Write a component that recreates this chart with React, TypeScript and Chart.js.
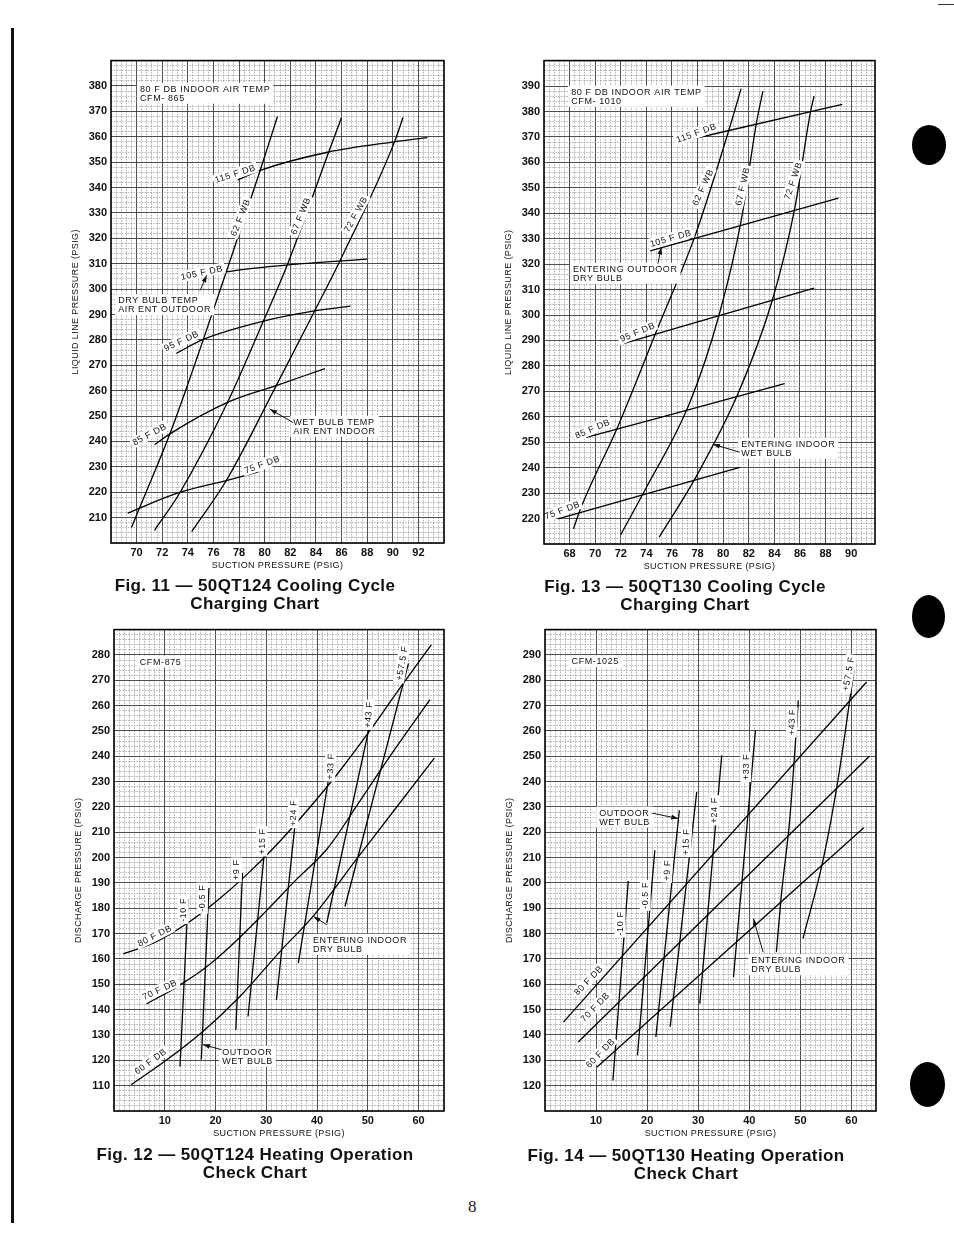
import React, { useEffect, useRef } from 'react';
import { Chart, registerables } from 'chart.js';

Chart.register(...registerables);

type Pt = [number, number];
type Label = { lines: string[]; x: number; y: number; rot?: number };
type Arrow = { from: Pt; to: Pt };

const FONT = '"Liberation Sans", Arial, Helvetica, sans-serif';

// ---------------- Fig. 11 — 50QT124 cooling ----------------
const fig11XTickLabels = [70, 72, 74, 76, 78, 80, 82, 84, 86, 88, 90, 92];
const fig11YTickLabels = [210, 220, 230, 240, 250, 260, 270, 280, 290, 300, 310, 320, 330, 340, 350, 360, 370, 380];
const fig11WB62: Pt[] = [[69.6, 206.1], [70.2, 213.5], [72.6, 243], [75.2, 280], [77, 306.8], [79.6, 346], [81, 368]];
const fig11WB67: Pt[] = [[71.4, 205], [73.4, 220], [77.1, 255.4], [79.9, 287.4], [81.8, 310], [85, 354], [86, 367.6]];
const fig11WB72: Pt[] = [[74.3, 204.5], [77, 224.6], [80.9, 262], [83.9, 291.4], [85.9, 311.4], [90.1, 357.5], [90.8, 367.6]];
const fig11DB115: Pt[] = [[77.9, 343], [79.6, 346.7], [84.9, 353.9], [90.1, 358], [92.7, 359.7]];
const fig11DB105: Pt[] = [[74.4, 304.2], [77, 306.8], [82.2, 309.7], [88, 311.8]];
const fig11DB95: Pt[] = [[73.1, 274.7], [75.2, 280.2], [79.9, 287.4], [83.9, 291.4], [86.7, 293.3]];
const fig11DB85: Pt[] = [[71.4, 238.7], [72.6, 243], [77.1, 255.4], [80.9, 262], [84.7, 268.7]];
const fig11DB75: Pt[] = [[69.3, 211.8], [73.4, 220], [77, 224.6], [79.5, 228]];

// ---------------- Fig. 13 — 50QT130 cooling ----------------
const fig13XTickLabels = [68, 70, 72, 74, 76, 78, 80, 82, 84, 86, 88, 90];
const fig13YTickLabels = [220, 230, 240, 250, 260, 270, 280, 290, 300, 310, 320, 330, 340, 350, 360, 370, 380, 390];
const fig13WB62: Pt[] = [[68.3, 216], [68.9, 224.4], [71.8, 256.5], [74.8, 293.8], [77.8, 331.1], [80.5, 373.6], [81.4, 389]];
const fig13WB67: Pt[] = [[72.0, 213.7], [73.9, 231.3], [77.4, 265.7], [79.7, 300.4], [81.4, 337], [82.6, 375.6], [83.1, 388]];
const fig13WB72: Pt[] = [[75.0, 212.7], [77.9, 236.6], [81.2, 269.6], [83.9, 306.9], [85.6, 342.2], [86.8, 379.3], [87.1, 386]];
const fig13DB115: Pt[] = [[76.9, 368.4], [89.3, 382.8]];
const fig13DB105: Pt[] = [[74.3, 325.2], [89.0, 345.9]];
const fig13DB95: Pt[] = [[72.2, 288.8], [87.1, 310.6]];
const fig13DB85: Pt[] = [[69.3, 251.9], [84.8, 273]];
const fig13DB75: Pt[] = [[67.1, 219.9], [81.3, 240.1]];

// ---------------- Fig. 12 — 50QT124 heating ----------------
const fig12XTickLabels = [10, 20, 30, 40, 50, 60];
const fig12YTickLabels = [110, 120, 130, 140, 150, 160, 170, 180, 190, 200, 210, 220, 230, 240, 250, 260, 270, 280];
const fig12DB80: Pt[] = [[1.8, 162], [8, 166.5], [14, 173.5], [20, 182.5], [26, 193], [32, 205], [38, 218.5], [44, 233], [50, 249], [56, 266], [62.5, 284]];
const fig12DB70: Pt[] = [[6.4, 142.3], [12, 148.5], [18, 156.5], [24, 167], [30, 179], [36, 191.5], [42, 203.5], [48, 221], [54, 239], [62.2, 262.3]];
const fig12DB60: Pt[] = [[3.4, 110.4], [10, 119.6], [17.5, 131.4], [24.8, 145.2], [33, 163.6], [39.2, 176.8], [47.7, 199.2], [55, 218.2], [63.1, 239.3]];
const fig12WBm10: Pt[] = [[13.0, 117.6], [14.6, 183.6]];
const fig12WBm05: Pt[] = [[17.2, 120.3], [18.7, 188]];
const fig12WB9: Pt[] = [[24.0, 132.1], [25.3, 193.9]];
const fig12WB15: Pt[] = [[26.4, 137.3], [29.9, 207.7]];
const fig12WB24: Pt[] = [[32.0, 143.9], [36.1, 221.5]];
const fig12WB33: Pt[] = [[36.3, 158.4], [43.1, 241.2]];
const fig12WB43: Pt[] = [[41.9, 174.2], [51.1, 259]];
const fig12WB575: Pt[] = [[45.5, 180.7], [58.0, 276.7]];

// ---------------- Fig. 14 — 50QT130 heating ----------------
const fig14XTickLabels = [10, 20, 30, 40, 50, 60];
const fig14YTickLabels = [120, 130, 140, 150, 160, 170, 180, 190, 200, 210, 220, 230, 240, 250, 260, 270, 280, 290];
const fig14DB80: Pt[] = [[3.6, 145.1], [62.95, 279.3]];
const fig14DB70: Pt[] = [[6.5, 137.2], [63.5, 250]];
const fig14DB60: Pt[] = [[10.2, 127.4], [62.4, 221.8]];
const fig14WBm10: Pt[] = [[13.3, 122.1], [16.3, 200.8]];
const fig14WBm05: Pt[] = [[18.1, 132.0], [21.5, 212.9]];
const fig14WB9: Pt[] = [[21.7, 139.2], [26.3, 228.7]];
const fig14WB15: Pt[] = [[24.5, 143.2], [29.7, 235.9]];
const fig14WB24: Pt[] = [[30.3, 152.4], [34.6, 250.4]];
const fig14WB33: Pt[] = [[36.9, 162.9], [41.2, 260.2]];
const fig14WB43: Pt[] = [[45.3, 172.7], [46.3, 195.8], [47.9, 224.8], [49.6, 272]];
const fig14WB575: Pt[] = [[50.5, 178], [54.5, 209.6], [57.4, 241.2], [60.5, 284]];

// ---------------- annotations ----------------
const fig11Labels: Label[] = [
  { lines: ['80 F DB INDOOR AIR TEMP', 'CFM- 865'], x: 70.26, y: 378.9 },
  { lines: ['115 F DB'], x: 77.7, y: 345.5, rot: -18 },
  { lines: ['62 F WB'], x: 78.1, y: 328.2, rot: -68 },
  { lines: ['67 F WB'], x: 82.8, y: 328.8, rot: -68 },
  { lines: ['72 F WB'], x: 87.1, y: 329.5, rot: -61 },
  { lines: ['105 F DB'], x: 75.1, y: 306.5, rot: -12 },
  { lines: ['DRY BULB TEMP', 'AIR ENT OUTDOOR'], x: 68.56, y: 295.6 },
  { lines: ['95 F DB'], x: 73.5, y: 279.6, rot: -25 },
  { lines: ['85 F DB'], x: 71.0, y: 242.8, rot: -28 },
  { lines: ['75 F DB'], x: 79.8, y: 231, rot: -20 },
  { lines: ['WET BULB TEMP', 'AIR ENT INDOOR'], x: 82.23, y: 247.7 },
];
const fig11Arrows: Arrow[] = [
  { from: [74.96, 299.5], to: [75.47, 305.4] },
  { from: [82.23, 247.4], to: [80.41, 252.7] },
];
const fig13Labels: Label[] = [
  { lines: ['80 F DB INDOOR AIR TEMP', 'CFM- 1010'], x: 68.13, y: 387.8 },
  { lines: ['115 F DB'], x: 77.9, y: 371.6, rot: -20 },
  { lines: ['62 F WB'], x: 78.4, y: 350.2, rot: -65 },
  { lines: ['67 F WB'], x: 81.5, y: 350.6, rot: -77 },
  { lines: ['72 F WB'], x: 85.45, y: 352.8, rot: -71 },
  { lines: ['105 F DB'], x: 75.9, y: 330.2, rot: -16 },
  { lines: ['ENTERING OUTDOOR', 'DRY BULB'], x: 68.26, y: 318.2 },
  { lines: ['95 F DB'], x: 73.3, y: 293.3, rot: -23 },
  { lines: ['85 F DB'], x: 69.8, y: 255.3, rot: -23 },
  { lines: ['75 F DB'], x: 67.43, y: 223.3, rot: -21 },
  { lines: ['ENTERING INDOOR', 'WET BULB'], x: 81.41, y: 249.4 },
];
const fig13Arrows: Arrow[] = [
  { from: [74.9, 320.2], to: [75.16, 326.6] },
  { from: [81.28, 246.1], to: [79.2, 249.2] },
];
const fig12Labels: Label[] = [
  { lines: ['CFM-875'], x: 5.07, y: 277.4 },
  { lines: ['+57.5 F'], x: 56.7, y: 276.7, rot: -80 },
  { lines: ['+43 F'], x: 50.1, y: 256.4, rot: -85 },
  { lines: ['+33 F'], x: 42.6, y: 236, rot: -87 },
  { lines: ['+24 F'], x: 35.3, y: 217.6, rot: -88 },
  { lines: ['+15 F'], x: 29.1, y: 206.4, rot: -90 },
  { lines: ['+9 F'], x: 24.1, y: 195.2, rot: -90 },
  { lines: ['-0.5 F'], x: 17.4, y: 184, rot: -90 },
  { lines: ['-10 F'], x: 13.6, y: 179.4, rot: -90 },
  { lines: ['80 F DB'], x: 8.0, y: 169.2, rot: -27 },
  { lines: ['70 F DB'], x: 9.0, y: 147.9, rot: -25 },
  { lines: ['60 F DB'], x: 7.2, y: 119.6, rot: -36 },
  { lines: ['ENTERING INDOOR', 'DRY BULB'], x: 39.2, y: 167.6 },
  { lines: ['OUTDOOR', 'WET BULB'], x: 21.3, y: 123.3 },
];
const fig12Arrows: Arrow[] = [
  { from: [41.9, 173.5], to: [39.3, 176.8] },
  { from: [21.2, 124.2], to: [17.5, 126.2] },
];
const fig14Labels: Label[] = [
  { lines: ['CFM-1025'], x: 5.2, y: 287.5 },
  { lines: ['+57.5 F'], x: 59.4, y: 282.6, rot: -80 },
  { lines: ['+43 F'], x: 48.3, y: 263.5, rot: -88 },
  { lines: ['+33 F'], x: 39.3, y: 245.8, rot: -90 },
  { lines: ['+24 F'], x: 33.1, y: 228.7, rot: -90 },
  { lines: ['+15 F'], x: 27.6, y: 216.2, rot: -87 },
  { lines: ['+9 F'], x: 23.9, y: 205, rot: -87 },
  { lines: ['-0.5 F'], x: 19.6, y: 195.1, rot: -90 },
  { lines: ['-10 F'], x: 14.7, y: 184, rot: -90 },
  { lines: ['80 F DB'], x: 8.5, y: 161.6, rot: -46 },
  { lines: ['70 F DB'], x: 9.8, y: 151, rot: -46 },
  { lines: ['60 F DB'], x: 10.8, y: 132.9, rot: -46 },
  { lines: ['OUTDOOR', 'WET BULB'], x: 10.6, y: 227.8 },
  { lines: ['ENTERING INDOOR', 'DRY BULB'], x: 40.4, y: 169.5 },
];
const fig14Arrows: Arrow[] = [
  { from: [20.9, 227.6], to: [26.1, 225.4] },
  { from: [42.7, 172.7], to: [40.8, 185.9] },
];

type Axis = { min: number; max: number; step: number; labels: number[] };
type Panel = {
  rect: [number, number, number, number];
  x: Axis;
  y: Axis;
  xTitle: string;
  yTitle: string;
  series: Pt[][];
  labels: Label[];
  arrows: Arrow[];
};

const panels: Panel[] = [
  {
    rect: [111, 60, 444, 543],
    x: { min: 68, max: 94, step: 0.4, labels: fig11XTickLabels },
    y: { min: 200, max: 390, step: 2, labels: fig11YTickLabels },
    xTitle: 'SUCTION PRESSURE (PSIG)',
    yTitle: 'LIQUID LINE PRESSURE (PSIG)',
    series: [fig11WB62, fig11WB67, fig11WB72, fig11DB115, fig11DB105, fig11DB95, fig11DB85, fig11DB75],
    labels: fig11Labels,
    arrows: fig11Arrows,
  },
  {
    rect: [544, 60, 875, 544],
    x: { min: 66, max: 91.86, step: 0.4, labels: fig13XTickLabels },
    y: { min: 210, max: 400, step: 2, labels: fig13YTickLabels },
    xTitle: 'SUCTION PRESSURE (PSIG)',
    yTitle: 'LIQUID LINE PRESSURE (PSIG)',
    series: [fig13WB62, fig13WB67, fig13WB72, fig13DB115, fig13DB105, fig13DB95, fig13DB85, fig13DB75],
    labels: fig13Labels,
    arrows: fig13Arrows,
  },
  {
    rect: [114, 629, 444, 1111],
    x: { min: 0, max: 65, step: 1, labels: fig12XTickLabels },
    y: { min: 100, max: 290, step: 2, labels: fig12YTickLabels },
    xTitle: 'SUCTION PRESSURE (PSIG)',
    yTitle: 'DISCHARGE PRESSURE (PSIG)',
    series: [fig12DB80, fig12DB70, fig12DB60, fig12WBm10, fig12WBm05, fig12WB9, fig12WB15, fig12WB24, fig12WB33, fig12WB43, fig12WB575],
    labels: fig12Labels,
    arrows: fig12Arrows,
  },
  {
    rect: [545, 629, 876, 1111],
    x: { min: 0, max: 64.8, step: 1, labels: fig14XTickLabels },
    y: { min: 110, max: 300, step: 2, labels: fig14YTickLabels },
    xTitle: 'SUCTION PRESSURE (PSIG)',
    yTitle: 'DISCHARGE PRESSURE (PSIG)',
    series: [fig14DB80, fig14DB70, fig14DB60, fig14WBm10, fig14WBm05, fig14WB9, fig14WB15, fig14WB24, fig14WB33, fig14WB43, fig14WB575],
    labels: fig14Labels,
    arrows: fig14Arrows,
  },
];

const captions = [
  { cx: 255, top: 577, lines: ['Fig. 11 — 50QT124 Cooling Cycle', 'Charging Chart'] },
  { cx: 685, top: 578, lines: ['Fig. 13 — 50QT130 Cooling Cycle', 'Charging Chart'] },
  { cx: 255, top: 1146, lines: ['Fig. 12 — 50QT124 Heating Operation', 'Check Chart'] },
  { cx: 686, top: 1147, lines: ['Fig. 14 — 50QT130 Heating Operation', 'Check Chart'] },
];

function near(v: any, list: number[]) {
  if (typeof v !== 'number') return false;
  return list.some((t) => Math.abs(t - v) < 1e-6);
}

function makeTicks(min: number, max: number, step: number) {
  const out: { value: number }[] = [];
  const n = Math.floor((max - min) / step + 1e-9);
  for (let i = 0; i <= n; i++) out.push({ value: +(min + i * step).toFixed(4) });
  return out;
}

const ML = 60, MT = 10, MR = 10, MB = 40;

function drawArrow(ctx: CanvasRenderingContext2D, x1: number, y1: number, x2: number, y2: number) {
  ctx.beginPath();
  ctx.moveTo(x1, y1);
  ctx.lineTo(x2, y2);
  ctx.stroke();
  const a = Math.atan2(y2 - y1, x2 - x1);
  const L = 7, W = 2.4;
  ctx.beginPath();
  ctx.moveTo(x2, y2);
  ctx.lineTo(x2 - L * Math.cos(a) + W * Math.sin(a), y2 - L * Math.sin(a) - W * Math.cos(a));
  ctx.lineTo(x2 - L * Math.cos(a) - W * Math.sin(a), y2 - L * Math.sin(a) + W * Math.cos(a));
  ctx.closePath();
  ctx.fill();
}

function PanelChart({ panel }: { panel: Panel }) {
  const ref = useRef<HTMLCanvasElement>(null);
  const [L, T, R, B] = panel.rect;
  const w = R - L + ML + MR;
  const h = B - T + MT + MB;

  useEffect(() => {
    const overlay = {
      id: 'overlay',
      afterDatasetsDraw(chart: any) {
        const { ctx, scales } = chart;
        const xs = scales.x, ys = scales.y;
        ctx.save();
        ctx.font = `9px ${FONT}`;
        (ctx as any).letterSpacing = '0.6px';
        ctx.textBaseline = 'middle';
        for (const t of panel.labels) {
          const px = xs.getPixelForValue(t.x);
          const py = ys.getPixelForValue(t.y);
          ctx.save();
          ctx.translate(px, py);
          if (t.rot !== undefined) {
            ctx.rotate((t.rot * Math.PI) / 180);
            const tw = ctx.measureText(t.lines[0]).width;
            ctx.fillStyle = '#fff';
            ctx.fillRect(-tw / 2 - 2, -5.5, tw + 4, 11);
            ctx.fillStyle = '#111';
            ctx.textAlign = 'center';
            ctx.fillText(t.lines[0], 0, 0.5);
          } else {
            const lh = 9;
            const tw = Math.max(...t.lines.map((l) => ctx.measureText(l).width));
            ctx.fillStyle = '#fff';
            ctx.fillRect(-3, -6, tw + 6, lh * (t.lines.length - 1) + 12);
            ctx.fillStyle = '#111';
            ctx.textAlign = 'left';
            t.lines.forEach((l, i) => ctx.fillText(l, 0, i * lh + 0.5));
          }
          ctx.restore();
        }
        ctx.strokeStyle = '#111';
        ctx.fillStyle = '#111';
        ctx.lineWidth = 1;
        for (const a of panel.arrows) {
          drawArrow(
            ctx,
            xs.getPixelForValue(a.from[0]), ys.getPixelForValue(a.from[1]),
            xs.getPixelForValue(a.to[0]), ys.getPixelForValue(a.to[1])
          );
        }
        ctx.restore();
      },
      afterDraw(chart: any) {
        const { ctx, chartArea: a } = chart;
        ctx.save();
        ctx.strokeStyle = '#000';
        ctx.lineWidth = 1.6;
        ctx.strokeRect(a.left, a.top, a.right - a.left, a.bottom - a.top);
        ctx.fillStyle = '#111';
        ctx.font = `9px ${FONT}`;
        (ctx as any).letterSpacing = '0.4px';
        ctx.textAlign = 'center';
        ctx.textBaseline = 'middle';
        ctx.fillText(panel.xTitle, (a.left + a.right) / 2, a.bottom + 23);
        ctx.translate(a.left - 35, (a.top + a.bottom) / 2);
        ctx.rotate(-Math.PI / 2);
        ctx.fillText(panel.yTitle, 0, 0);
        ctx.restore();
      },
    };

    const axisOpts = (ax: Axis, horizontal: boolean) => ({
      type: 'linear' as const,
      min: ax.min,
      max: ax.max,
      afterBuildTicks: (s: any) => {
        s.ticks = makeTicks(ax.min, ax.max, ax.step);
      },
      afterFit: (s: any) => {
        if (horizontal) s.height = MB;
        else s.width = ML;
      },
      ticks: {
        autoSkip: false,
        maxRotation: 0,
        minRotation: 0,
        padding: horizontal ? 3 : 4,
        color: '#111',
        font: { family: FONT, size: 11, weight: 'bold' as const },
        callback: (v: any) => (near(v, ax.labels) ? String(Math.round(v)) : ''),
      },
      grid: {
        drawTicks: false,
        color: (c: any) => (near(c.tick?.value, ax.labels) ? '#3c3c3c' : '#848484'),
        lineWidth: (c: any) => (near(c.tick?.value, ax.labels) ? 0.9 : 0.6),
      },
      border: {
        display: false,
        dash: (c: any) => (near(c.tick?.value, ax.labels) ? [] : [1.6, 1.2]),
      },
    });

    const chart = new Chart(ref.current!, {
      type: 'scatter',
      data: {
        datasets: panel.series.map((s) => ({
          data: s.map(([x, y]) => ({ x, y })),
          showLine: true,
          borderColor: '#000',
          borderWidth: 1.3,
          pointRadius: 0,
          fill: false,
          cubicInterpolationMode: 'monotone' as const,
        })),
      },
      options: {
        responsive: false,
        animation: false,
        devicePixelRatio: 1,
        events: [],
        layout: { padding: { top: MT, right: MR, left: 0, bottom: 0 }, autoPadding: false },
        plugins: { legend: { display: false }, tooltip: { enabled: false } },
        scales: {
          x: axisOpts(panel.x, true),
          y: axisOpts(panel.y, false),
        },
      } as any,
      plugins: [overlay],
    });
    return () => chart.destroy();
  }, []);

  return (
    <canvas
      ref={ref}
      width={w}
      height={h}
      style={{ position: 'absolute', left: L - ML, top: T - MT, width: w, height: h }}
    />
  );
}

export default function App() {
  return (
    <div style={{ position: 'absolute', left: 0, top: 0, width: 954, height: 1235, background: '#fff', overflow: 'hidden' }}>
      {panels.map((p, i) => (
        <PanelChart key={i} panel={p} />
      ))}
      {captions.map((c, i) => (
        <div
          key={i}
          style={{
            position: 'absolute',
            left: c.cx - 220,
            top: c.top,
            width: 440,
            textAlign: 'center',
            fontFamily: FONT,
            fontWeight: 'bold',
            fontSize: 17,
            letterSpacing: '0.4px',
            lineHeight: '18px',
            color: '#111',
          }}
        >
          {c.lines.map((l, j) => (
            <div key={j}>{l}</div>
          ))}
        </div>
      ))}
      <div style={{ position: 'absolute', left: 468, top: 1197, fontFamily: '"Liberation Serif", "DejaVu Serif", serif', fontSize: 17, color: '#222' }}>8</div>
      <div style={{ position: 'absolute', left: 11, top: 28, width: 3, height: 1195, background: '#111' }} />
      <div style={{ position: 'absolute', left: 938, top: 4, width: 16, height: 1, background: '#333' }} />
      <div style={{ position: 'absolute', left: 912, top: 125, width: 34, height: 40, borderRadius: '50%', background: '#000' }} />
      <div style={{ position: 'absolute', left: 912, top: 595, width: 33, height: 43, borderRadius: '50%', background: '#000' }} />
      <div style={{ position: 'absolute', left: 910, top: 1062, width: 35, height: 45, borderRadius: '50%', background: '#000' }} />
    </div>
  );
}
